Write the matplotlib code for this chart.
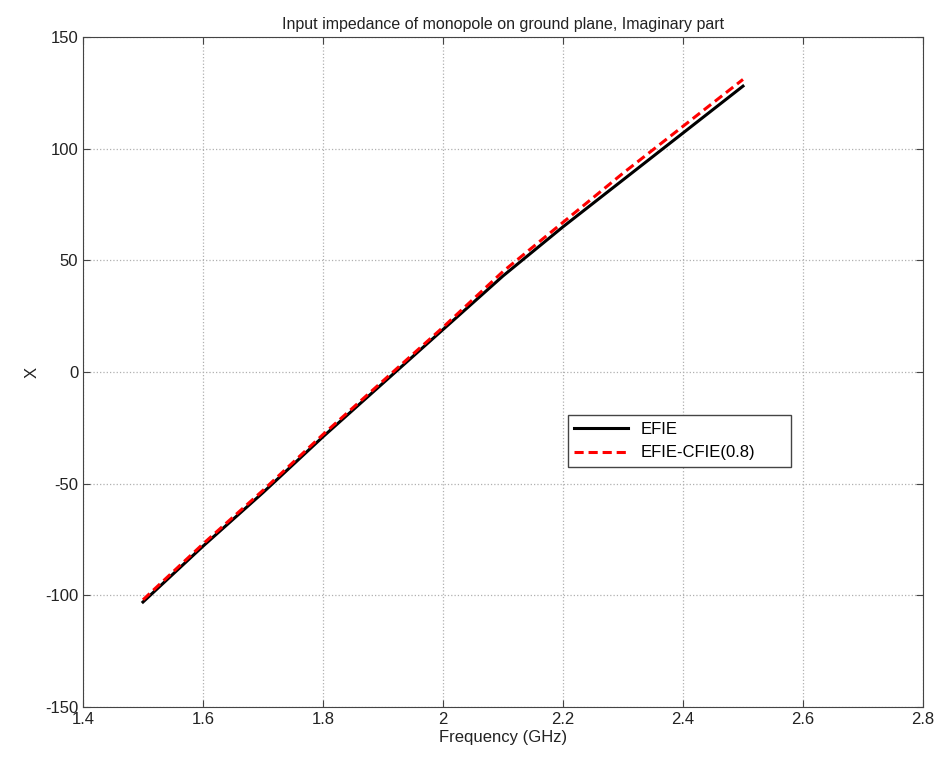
import matplotlib
matplotlib.use("Agg")
import matplotlib.pyplot as plt

# Frequency (GHz) and reactance X
freq = [1.5, 1.6, 1.7, 1.8, 1.9, 2.0, 2.1, 2.2, 2.3, 2.4, 2.5]
x_efie = [-103, -78, -54, -29, -5, 19, 43, 65, 86, 107, 128]
x_cfie = [-102, -77, -53, -28, -4, 20, 45, 67, 89, 110, 131]

plt.rcParams["font.family"] = ["Liberation Sans", "DejaVu Sans"]
plt.rcParams["axes.unicode_minus"] = False

fig = plt.figure(figsize=(9.42, 7.58), dpi=100)
ax = fig.add_axes([0.0881, 0.0673, 0.8917, 0.8839])

ax.plot(freq, x_efie, color="black", linewidth=2.2, label="EFIE")
ax.plot(freq, x_cfie, color="red", linewidth=2.2, linestyle=(0, (3, 1.6)), label="EFIE-CFIE(0.8)")

ax.set_xlim(1.4, 2.8)
ax.set_ylim(-150, 150)
ax.set_xticks([1.4, 1.6, 1.8, 2.0, 2.2, 2.4, 2.6, 2.8])
ax.set_xticklabels(["1.4", "1.6", "1.8", "2", "2.2", "2.4", "2.6", "2.8"])
ax.set_yticks([-150, -100, -50, 0, 50, 100, 150])

ax.grid(True, color="#b0b0b0", linestyle=":", linewidth=0.9)
ax.tick_params(direction="in", labelsize=12, length=5, top=True, right=True,
               color="#444444", labelcolor="#222222")
for s in ax.spines.values():
    s.set_color("#444444")

ax.set_xlabel("Frequency (GHz)", fontsize=12, labelpad=2, color="#222222")
ax.set_ylabel("X", fontsize=12, color="#222222")
ax.set_title("Input impedance of monopole on ground plane, Imaginary part",
             fontsize=11.5, pad=6, color="#222222")

leg = ax.legend(loc="lower left", bbox_to_anchor=(0.577, 0.358, 0.266, 0.093), mode="expand",
                fontsize=12, fancybox=False, framealpha=1, edgecolor="#444444",
                handlelength=3.2, borderaxespad=0)

fig.savefig("out.png", dpi=100)
